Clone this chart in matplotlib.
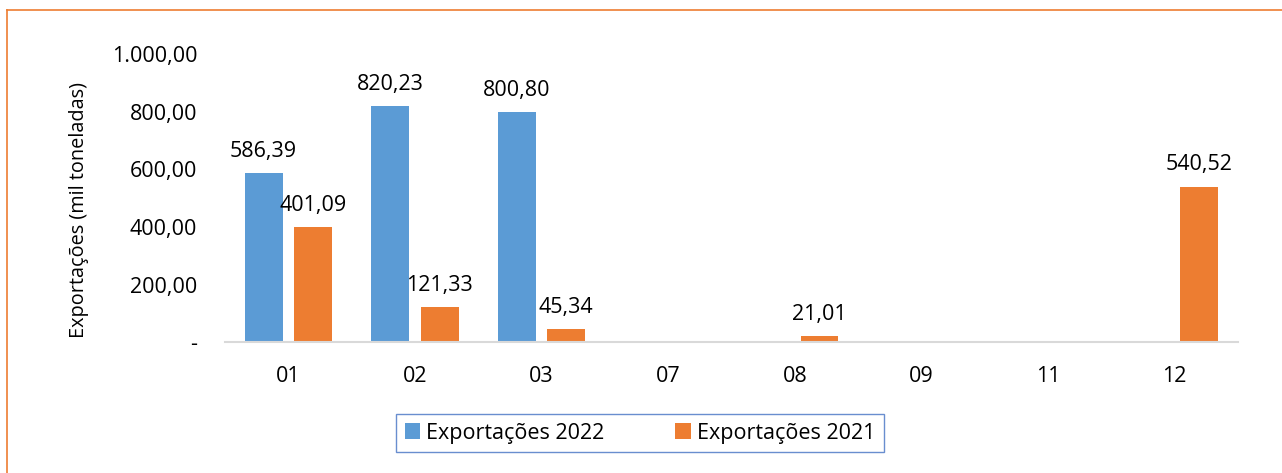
import numpy as np
import matplotlib.pyplot as plt
from matplotlib.lines import Line2D

# Exportações mensais (mil toneladas)
meses = ['01', '02', '03', '07', '08', '09', '11', '12']
exp_2022 = [586.39, 820.23, 800.80, 0, 0, 0, 0, 0]
exp_2021 = [401.09, 121.33, 45.34, 0, 21.01, 0, 0, 540.52]

AZUL = '#5B9BD5'
LARANJA = '#ED7D31'
FS = 15.5

plt.rcParams['font.family'] = ['Open Sans', 'DejaVu Sans']


def fmt_br(v):
    """Formato numérico brasileiro: 1.000,00"""
    s = f"{v:,.2f}"
    return s.replace(',', 'X').replace('.', ',').replace('X', '.')


def rotular(ax, barras, valores):
    for b, v in zip(barras, valores):
        if v == 0:
            continue
        ax.annotate(fmt_br(v), (b.get_x() + b.get_width() / 2, v),
                    xytext=(0, 8), textcoords='offset points',
                    ha='center', va='bottom', fontsize=FS)


fig = plt.figure(figsize=(12.82, 4.73), dpi=100)
ax = fig.add_axes([225 / 1282, 1 - 342 / 473, 1013 / 1282, 287.5 / 473])

x = np.arange(len(meses))
larg = 0.3
b1 = ax.bar(x - 0.195, exp_2022, larg, color=AZUL, label='Exportações 2022')
b2 = ax.bar(x + 0.195, exp_2021, larg, color=LARANJA, label='Exportações 2021')
rotular(ax, b1, exp_2022)
rotular(ax, b2, exp_2021)

ax.set_xlim(-0.5, len(meses) - 0.5)
ax.set_ylim(0, 1000)
ax.set_yticks(np.arange(0, 1001, 200))
ax.set_yticklabels(['-'] + [fmt_br(v) for v in range(200, 1001, 200)])
ax.set_xticks(x)
ax.set_xticklabels(meses)
ax.tick_params(axis='y', length=0, pad=20, labelsize=FS)
ax.tick_params(axis='x', length=0, pad=17, labelsize=FS)

for s in ['top', 'right', 'left']:
    ax.spines[s].set_visible(False)
ax.spines['bottom'].set_color('#D9D9D9')
ax.spines['bottom'].set_linewidth(1.5)

fig.text(79 / 1282, 1 - 210 / 473, 'Exportações (mil toneladas)',
         rotation=90, ha='center', va='center', fontsize=14.3)

leg = fig.legend(handles=[b1, b2], loc='center',
                 bbox_to_anchor=(640 / 1282, 1 - 433 / 473),
                 ncol=2, fontsize=FS, frameon=True, fancybox=False,
                 handlelength=0.7, handleheight=0.7, handletextpad=0.3,
                 columnspacing=3.3, borderpad=0.4)
leg.get_frame().set_edgecolor('#4472C4')
leg.get_frame().set_linewidth(1.0)

# moldura do gráfico (bordas superior e esquerda)
fig.add_artist(Line2D([7 / 1282, 7 / 1282], [0, 1 - 10 / 473],
                      transform=fig.transFigure, color=LARANJA, lw=1.2))
fig.add_artist(Line2D([7 / 1282, 1], [1 - 10 / 473, 1 - 10 / 473],
                      transform=fig.transFigure, color=LARANJA, lw=1.2))

fig.savefig('out.png', dpi=100)
